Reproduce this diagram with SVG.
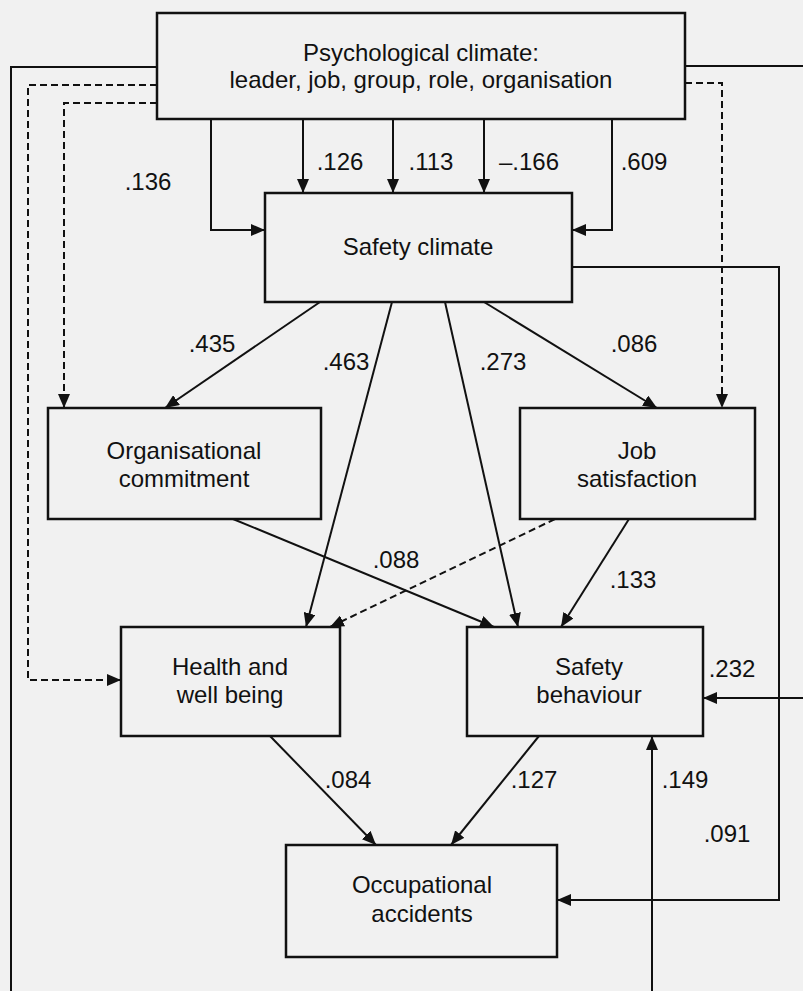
<svg xmlns="http://www.w3.org/2000/svg" width="803" height="991" viewBox="0 0 803 991">
<defs>
<marker id="ah" markerUnits="userSpaceOnUse" markerWidth="14" markerHeight="12" refX="14" refY="6" orient="auto">
<path d="M0,0 L14,6 L0,12 z" fill="#111"/>
</marker>
<style>
.box{fill:none;stroke:#111;stroke-width:2.5}
.t{font-family:"Liberation Sans",Arial,sans-serif;font-size:24px;fill:#111;text-anchor:middle}
.c{fill:none;stroke:#111;stroke-width:2}
.a{marker-end:url(#ah)}
.d{stroke-dasharray:7 4}
</style>
</defs>
<rect x="0" y="0" width="803" height="991" fill="#f1f1f1"/>
<g id="connectors">
<path class="c a" d="M211,120 V230 H265"/>
<path class="c a" d="M303,120 V193"/>
<path class="c a" d="M393,120 V193"/>
<path class="c a" d="M484,120 V193"/>
<path class="c a" d="M612,120 V230 H572"/>
<path class="c a d" d="M157,103 H64 V408"/>
<path class="c a d" d="M157,85 H28 V680 H121"/>
<path class="c a d" d="M685,83 H722 V408"/>
<path class="c" d="M157,67 H11 V1000"/>
<path class="c a" d="M685,66 H815 V698 H703"/>
<path class="c a" d="M320,302 L165,408"/>
<path class="c a" d="M392,302 L306,627"/>
<path class="c a" d="M445,302 L518,627"/>
<path class="c a" d="M484,302 L657,408"/>
<path class="c a" d="M572,267 H779 V900 H557"/>
<path class="c a" d="M233,519 L494,627"/>
<path class="c a d" d="M555,519 L330,627"/>
<path class="c a" d="M629,519 L561,627"/>
<path class="c a" d="M270,736 L376,845"/>
<path class="c a" d="M539,736 L451,845"/>
<path class="c a" d="M652,1000 V736"/>
<text class="t" x="148" y="190">.136</text>
<text class="t" x="340" y="170">.126</text>
<text class="t" x="431" y="170">.113</text>
<text class="t" x="529" y="170">–.166</text>
<text class="t" x="644" y="170">.609</text>
<text class="t" x="212" y="352">.435</text>
<text class="t" x="346" y="370">.463</text>
<text class="t" x="503" y="370">.273</text>
<text class="t" x="634" y="352">.086</text>
<text class="t" x="396" y="568">.088</text>
<text class="t" x="633" y="588">.133</text>
<text class="t" x="732" y="677">.232</text>
<text class="t" x="348" y="788">.084</text>
<text class="t" x="534" y="788">.127</text>
<text class="t" x="685" y="788">.149</text>
<text class="t" x="727" y="842">.091</text>
</g>
<g id="psych">
<rect class="box" x="157" y="13" width="528" height="106"/>
<text class="t" x="421" y="61">Psychological climate:</text>
<text class="t" x="421" y="88">leader, job, group, role, organisation</text>
</g>
<g id="safety-climate">
<rect class="box" x="265" y="193" width="307" height="109"/>
<text class="t" x="418" y="255">Safety climate</text>
</g>
<g id="org-commitment">
<rect class="box" x="48" y="408" width="273" height="111"/>
<text class="t" x="184" y="459">Organisational</text>
<text class="t" x="184" y="487">commitment</text>
</g>
<g id="job-satisfaction">
<rect class="box" x="520" y="408" width="235" height="111"/>
<text class="t" x="637" y="459">Job</text>
<text class="t" x="637" y="487">satisfaction</text>
</g>
<g id="health">
<rect class="box" x="121" y="627" width="219" height="109"/>
<text class="t" x="230" y="675">Health and</text>
<text class="t" x="230" y="703">well being</text>
</g>
<g id="safety-behaviour">
<rect class="box" x="467" y="627" width="236" height="109"/>
<text class="t" x="589" y="675">Safety</text>
<text class="t" x="589" y="703">behaviour</text>
</g>
<g id="occupational-accidents">
<rect class="box" x="286" y="845" width="271" height="112"/>
<text class="t" x="422" y="893">Occupational</text>
<text class="t" x="422" y="922">accidents</text>
</g>
</svg>
